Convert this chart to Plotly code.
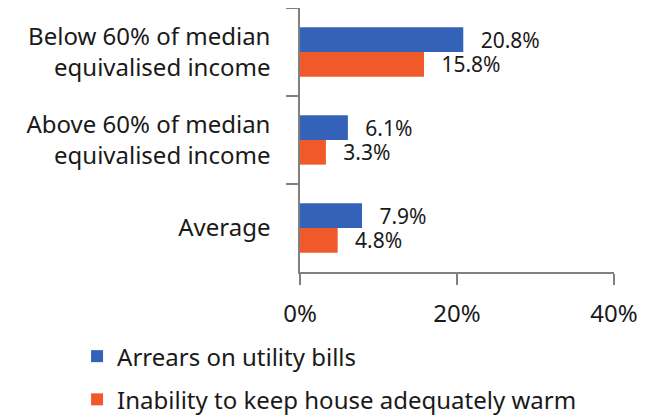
import plotly.graph_objects as go

categories = ["Below 60% of median<br>equivalised income",
              "Above 60% of median<br>equivalised income",
              "Average"]
arrears = [20.8, 6.1, 7.9]
warmth = [15.8, 3.3, 4.8]
series_names = ["Arrears on utility bills", "Inability to keep house adequately warm"]
x_ticks = [0, 20, 40]
x_tick_labels = ["0%", "20%", "40%"]

FONT = "Noto Sans, Open Sans, sans-serif"
AXIS_GREY = "#808080"

fig = go.Figure()
for name, values, color, group in [(series_names[0], arrears, "#3462B8", "a"),
                                   (series_names[1], warmth, "#F05A2A", "b")]:
    fig.add_trace(go.Bar(
        y=categories, x=values, name=name, orientation="h",
        marker=dict(color=color, line=dict(width=0)),
        text=[f"  \u2009{v:.1f}%" for v in values],
        textposition="outside", cliponaxis=False, constraintext="none",
        textfont=dict(size=21, color="#1a1a1a"),
        legendgroup=group,
    ))

# page body adds ~8px offset, so margins are shifted to compensate
fig.update_layout(
    width=651, height=416,
    barmode="group", bargap=0.44, bargroupgap=0,
    paper_bgcolor="white", plot_bgcolor="white",
    font=dict(family=FONT, size=24, color="#1a1a1a"),
    margin=dict(l=292, r=45, t=0, b=152, autoexpand=False),
    showlegend=True,
    legend=dict(orientation="v", x=-0.71, y=-0.235, xanchor="left", yanchor="top",
                font=dict(size=24), traceorder="grouped", tracegroupgap=9),
)
fig.update_xaxes(range=[0, 40], tickvals=x_ticks, ticktext=x_tick_labels,
                 showgrid=False, zeroline=False, showline=True, automargin=False,
                 linecolor=AXIS_GREY, linewidth=1.5, ticklabelstandoff=8,
                 ticks="outside", ticklen=11, tickcolor=AXIS_GREY, tickwidth=1.5)
fig.update_yaxes(autorange="reversed", tickson="boundaries", automargin=False,
                 showgrid=False, showline=True, linecolor=AXIS_GREY, linewidth=1.5,
                 ticks="outside", ticklen=12, tickcolor=AXIS_GREY, tickwidth=1.5,
                 ticklabelstandoff=23)

fig.write_html("out.html")
